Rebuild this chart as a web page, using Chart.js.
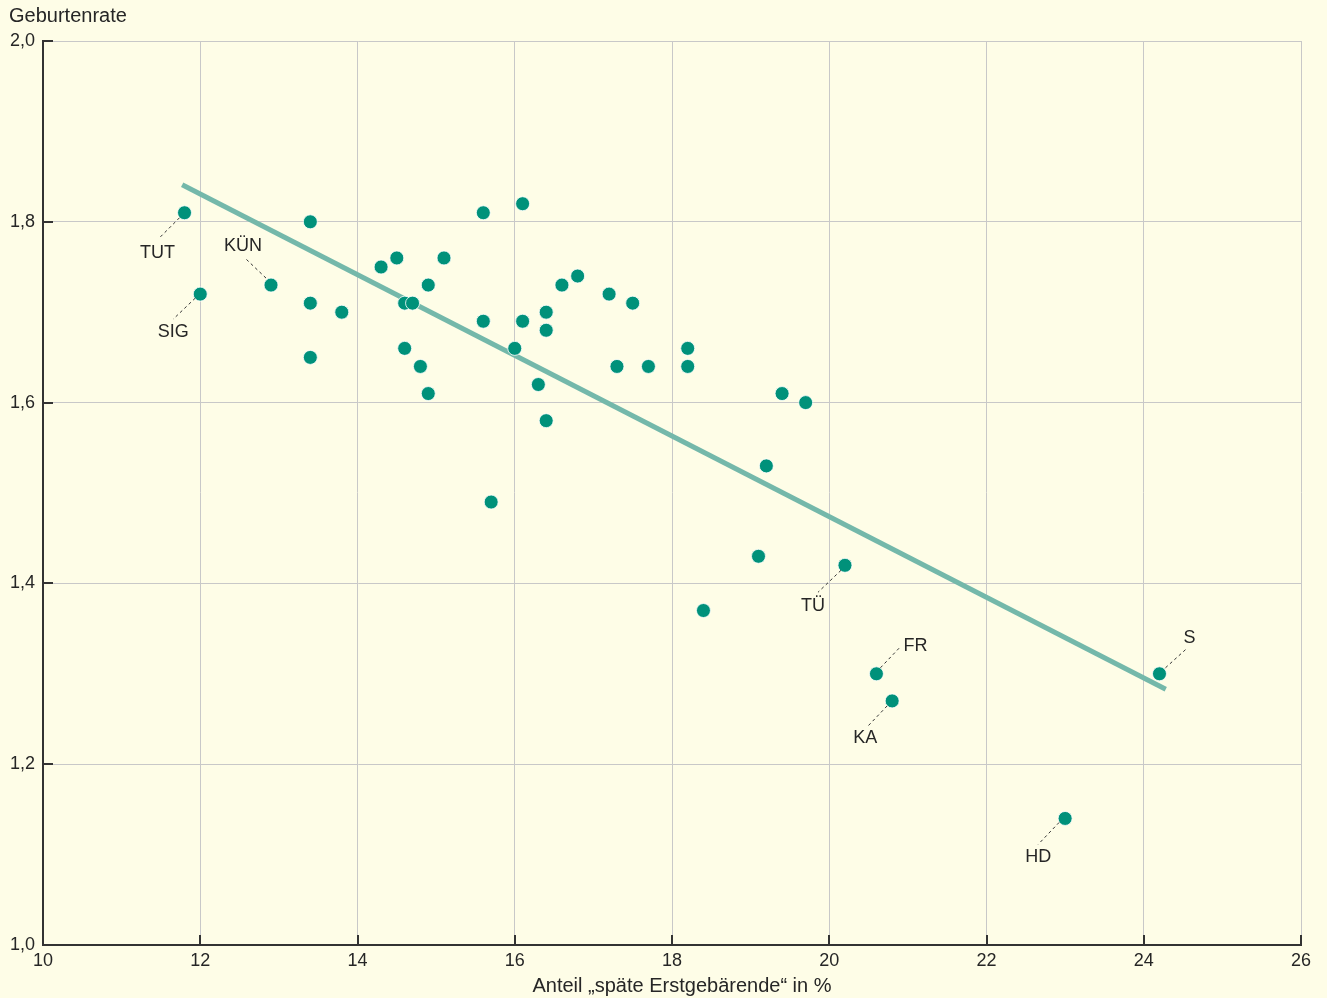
<!DOCTYPE html>
<html>
<head>
<meta charset="utf-8">
<script src="https://cdn.jsdelivr.net/npm/chart.js@4/dist/chart.umd.min.js"></script>
<style>
  html, body { margin: 0; padding: 0; background: #fefde7; }
  #wrap { width: 1327px; height: 998px; }
  canvas { display: block; background: #fefde7; }
</style>
</head>
<body>
<div id="wrap"><canvas id="c" width="1327" height="998"></canvas></div>
<script>
// ---- Data ----
const shareLateFirstBirths = [
  11.8, 12.0, 12.9, 13.4, 13.4, 13.4, 13.8, 14.3, 14.5, 14.6, 14.7, 14.6, 14.8, 14.9, 14.9,
  15.1, 15.6, 15.6, 15.7, 16.0, 16.1, 16.1, 16.3, 16.4, 16.4, 16.4, 16.6, 16.8, 17.2, 17.3,
  17.5, 17.7, 18.2, 18.2, 18.4, 19.1, 19.2, 19.4, 19.7, 20.2, 20.6, 20.8, 23.0, 24.2
];
const birthRate = [
  1.81, 1.72, 1.73, 1.80, 1.71, 1.65, 1.70, 1.75, 1.76, 1.71, 1.71, 1.66, 1.64, 1.73, 1.61,
  1.76, 1.81, 1.69, 1.49, 1.66, 1.82, 1.69, 1.62, 1.70, 1.68, 1.58, 1.73, 1.74, 1.72, 1.64,
  1.71, 1.64, 1.66, 1.64, 1.37, 1.43, 1.53, 1.61, 1.60, 1.42, 1.30, 1.27, 1.14, 1.30
];
const trendX = [11.77, 24.28];
const trendY = [1.841, 1.283];
const xTicks = [10, 12, 14, 16, 18, 20, 22, 24, 26];
const yTicks = [1.0, 1.2, 1.4, 1.6, 1.8, 2.0];
const labelIndex = [0, 1, 2, 39, 40, 41, 42, 43];
const labelText  = ['TUT', 'SIG', 'KÜN', 'TÜ', 'FR', 'KA', 'HD', 'S'];
const xTitle = 'Anteil „späte Erstgebärende“ in %';
const yTitle = 'Geburtenrate';

// ---- Styling of annotations (pixel offsets from the point) ----
const labelStyle = {
  TUT: { l1: [-5, 5],  l2: [-25, 25], t: [-27, 40] },
  SIG: { l1: [-5, 4],  l2: [-27, 25], t: [-27, 38] },
  'KÜN': { l1: [-5, -7], l2: [-26, -27], t: [-28, -39] },
  'TÜ': { l1: [-4, 5],  l2: [-27, 27], t: [-32, 41] },
  FR:  { l1: [4, -6],  l2: [24, -27], t: [39, -28] },
  KA:  { l1: [-5, 5],  l2: [-25, 26], t: [-27, 37] },
  HD:  { l1: [-6, 4],  l2: [-27, 26], t: [-27, 39] },
  S:   { l1: [6, -6],  l2: [27, -25], t: [30, -36] }
};

const TEXT = '#262626';
const FONT = '"Liberation Sans", Arial, sans-serif';

const scatterData = shareLateFirstBirths.map((x, i) => ({ x, y: birthRate[i] }));
const trendData = trendX.map((x, i) => ({ x, y: trendY[i] }));

const decorPlugin = {
  id: 'decor',
  afterDraw(chart) {
    const ctx = chart.ctx;
    const xs = chart.scales.x, ys = chart.scales.y;
    const ca = chart.chartArea;
    ctx.save();
    // inside tick marks
    ctx.strokeStyle = '#333';
    ctx.lineWidth = 2;
    xTicks.forEach(v => {
      const px = Math.round(xs.getPixelForValue(v));
      ctx.beginPath(); ctx.moveTo(px, ca.bottom); ctx.lineTo(px, ca.bottom - 10); ctx.stroke();
    });
    yTicks.forEach(v => {
      const py = Math.round(ys.getPixelForValue(v));
      ctx.beginPath(); ctx.moveTo(ca.left, py); ctx.lineTo(ca.left + 10, py); ctx.stroke();
    });
    // labels with dashed leader lines
    ctx.font = '18px ' + FONT;
    ctx.fillStyle = TEXT;
    ctx.textAlign = 'center';
    ctx.textBaseline = 'middle';
    labelIndex.forEach((idx, k) => {
      const name = labelText[k];
      const st = labelStyle[name];
      const px = xs.getPixelForValue(shareLateFirstBirths[idx]);
      const py = ys.getPixelForValue(birthRate[idx]);
      ctx.save();
      ctx.setLineDash([3, 3]);
      ctx.lineWidth = 1;
      ctx.strokeStyle = '#333';
      ctx.beginPath();
      ctx.moveTo(px + st.l1[0], py + st.l1[1]);
      ctx.lineTo(px + st.l2[0], py + st.l2[1]);
      ctx.stroke();
      ctx.restore();
      ctx.fillText(name, px + st.t[0], py + st.t[1]);
    });
    // titles
    ctx.textBaseline = 'alphabetic';
    ctx.font = '20px ' + FONT;
    ctx.textAlign = 'left';
    ctx.fillText(yTitle, 9, 22);
    ctx.textAlign = 'center';
    ctx.fillText(xTitle, 682, 992);
    ctx.restore();
  }
};

new Chart(document.getElementById('c'), {
  type: 'scatter',
  data: {
    datasets: [
      {
        type: 'scatter',
        data: scatterData,
        order: 0,
        pointRadius: 7,
        pointHoverRadius: 7,
        pointBackgroundColor: '#00917a',
        pointBorderColor: '#ffffff',
        pointBorderWidth: 0.8
      },
      {
        type: 'line',
        data: trendData,
        order: 1,
        borderColor: '#74b8aa',
        borderWidth: 5,
        pointRadius: 0,
        fill: false
      }
    ]
  },
  options: {
    responsive: false,
    animation: false,
    events: [],
    layout: { padding: { top: 41, right: 26, left: 0, bottom: 0 } },
    plugins: { legend: { display: false }, tooltip: { enabled: false } },
    scales: {
      x: {
        type: 'linear',
        min: 10, max: 26,
        afterBuildTicks: s => { s.ticks = xTicks.map(v => ({ value: v })); },
        afterFit: s => { s.height = 53; },
        grid: { color: '#c8c8c8', lineWidth: 1, drawTicks: false },
        border: { color: '#333', width: 2 },
        ticks: { color: TEXT, font: { family: FONT, size: 18 }, padding: 5, maxRotation: 0 }
      },
      y: {
        type: 'linear',
        min: 1, max: 2,
        afterBuildTicks: s => { s.ticks = yTicks.map(v => ({ value: v })); },
        afterFit: s => { s.width = 43; },
        grid: { color: '#c8c8c8', lineWidth: 1, drawTicks: false },
        border: { color: '#333', width: 2 },
        ticks: {
          color: TEXT, font: { family: FONT, size: 18 }, padding: 8,
          callback: v => v.toFixed(1).replace('.', ',')
        }
      }
    }
  },
  plugins: [decorPlugin]
});
</script>
</body>
</html>
